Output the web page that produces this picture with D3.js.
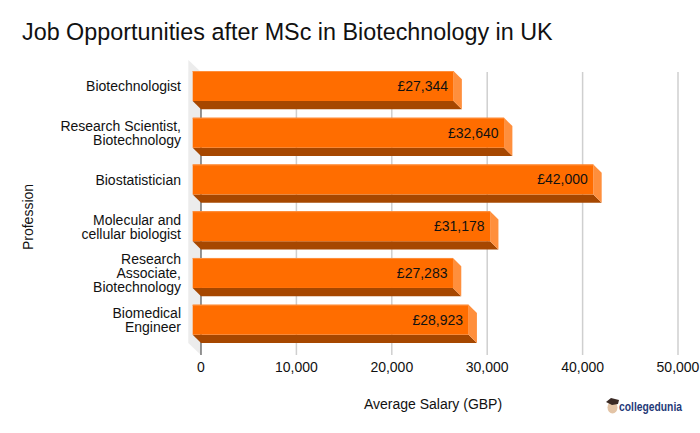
<!DOCTYPE html>
<html><head><meta charset="utf-8">
<script src="https://cdn.jsdelivr.net/npm/d3@7"></script>
<style>html,body{margin:0;background:#fff}svg{display:block}text{font-family:"Liberation Sans",Arial,sans-serif;fill:#111}</style>
</head><body><svg id="c" width="700" height="433"></svg>
<script>
const titleText = "Job Opportunities after MSc in Biotechnology in UK";
const categories = [["Biotechnologist"],["Research Scientist,","Biotechnology"],["Biostatistician"],["Molecular and","cellular biologist"],["Research","Associate,","Biotechnology"],["Biomedical","Engineer"]];
const salaries = [27344,32640,42000,31178,27283,28923];
const tickValues = [0,10000,20000,30000,40000,50000];
const xAxisTitle = "Average Salary (GBP)";
const yAxisTitle = "Profession";

const svg = d3.select("#c");
const depth = 8.3;
const x = d3.scaleLinear().domain([0,50000]).range([201,678]);
const y = d3.scaleBand().domain(d3.range(categories.length)).range([71,343]).paddingInner(0.181);
const fmt = d3.format(",");

svg.append("text").attr("x",22).attr("y",40).attr("font-size",23.35).text(titleText);

// back wall
svg.append("polygon").attr("fill","#ececec")
  .attr("points",[[x(0)-12.7,60],[x(0),72],[x(0),355],[x(0)-12.7,343]].join(" "));
// grid
svg.append("g").selectAll("line").data(tickValues.slice(1)).join("line")
  .attr("x1",d=>x(d)).attr("x2",d=>x(d)).attr("y1",72).attr("y2",355)
  .attr("stroke","#cfcfcf").attr("stroke-width",1.5);
svg.append("line").attr("x1",x(0)).attr("x2",x(0)).attr("y1",72).attr("y2",355)
  .attr("stroke","#333").attr("stroke-width",1);

const bars = svg.append("g").selectAll("g").data(salaries).join("g");
const h = y.bandwidth()-depth;
const left = x(0)-depth;
bars.append("polygon").attr("fill","#a64700")
  .attr("points",(d,i)=>{const t=y(i)+h,r=x(d)-depth;return [[left,t],[r,t],[r+depth,t+depth],[left+depth,t+depth]].join(" ")});
bars.append("polygon").attr("fill","#ff8f3c")
  .attr("points",(d,i)=>{const t=y(i),r=x(d)-depth;return [[r,t],[r+depth,t+depth],[r+depth,t+h+depth],[r,t+h]].join(" ")});
bars.append("rect").attr("x",left).attr("y",(d,i)=>y(i)).attr("height",h)
  .attr("width",d=>x(d)-x(0)).attr("fill","#ff6d00");
bars.append("line").attr("x1",left).attr("x2",d=>x(d)-depth).attr("y1",(d,i)=>y(i)+.5).attr("y2",(d,i)=>y(i)+.5)
  .attr("stroke","#ff8f3c").attr("stroke-width",1);
bars.append("text").attr("x",d=>x(d)-depth-5.5).attr("y",(d,i)=>y(i)+h/2+5)
  .attr("text-anchor","end").attr("font-size",14).text(d=>"£"+fmt(d));

// category labels, one text per line
const lineH = 14;
svg.append("g").selectAll("g").data(categories).join("g")
  .each(function(lines,i){
    const cy = y(i)+h/2+0.5;
    d3.select(this).selectAll("text").data(lines).join("text")
      .attr("text-anchor","end").attr("font-size",14)
      .attr("x",181).attr("y",(l,k)=>cy+5+(k-(lines.length-1)/2)*lineH).text(l=>l);
  });

// ticks
svg.append("g").selectAll("text").data(tickValues).join("text")
  .attr("x",d=>x(d)).attr("y",372).attr("text-anchor","middle").attr("font-size",14).text(d=>fmt(d));

svg.append("text").attr("x",433).attr("y",409).attr("text-anchor","middle").attr("font-size",14).text(xAxisTitle);
svg.append("text").attr("transform","translate(33,217) rotate(-90)").attr("text-anchor","middle").attr("font-size",14).text(yAxisTitle);

// logo
const logo = svg.append("g");
logo.append("ellipse").attr("cx",612.5).attr("cy",407.5).attr("rx",5).attr("ry",6).attr("fill","#e3c4a6");
logo.append("polygon").attr("points","606,402 611,398 619,400 618,404 612,405").attr("fill","#3a2a25");
logo.append("text").attr("x",619).attr("y",411).attr("font-size",12).attr("font-weight",700)
  .style("fill","#1f3a78").attr("textLength",63).attr("lengthAdjust","spacingAndGlyphs").text("collegedunia");
</script></body></html>
